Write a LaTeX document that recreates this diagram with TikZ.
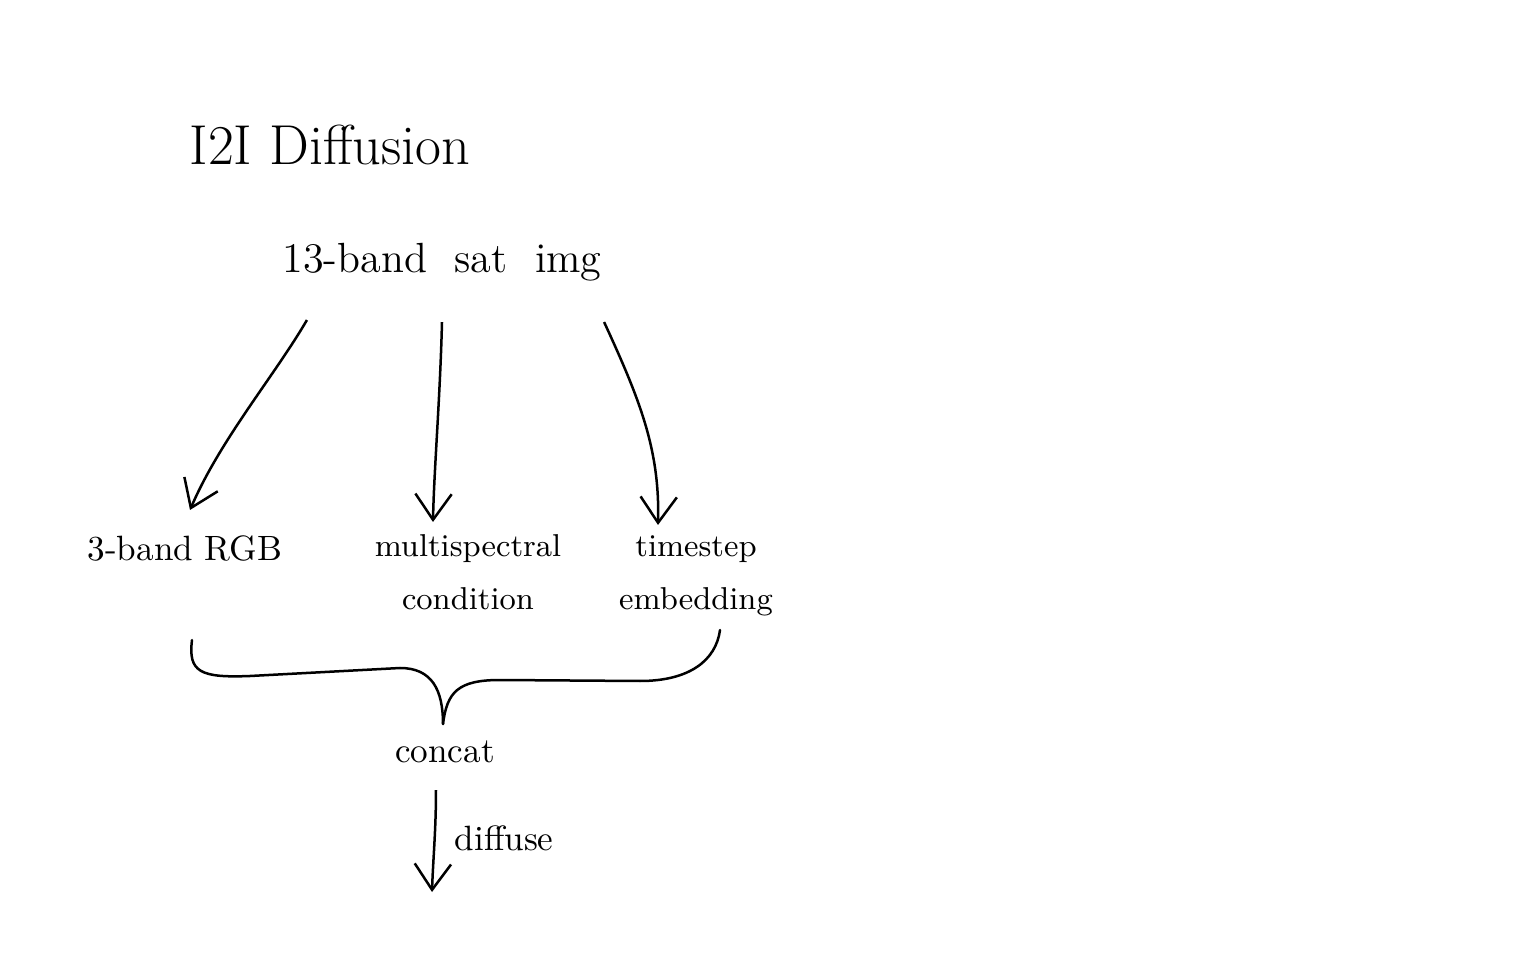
\documentclass[tikz,border=0pt]{standalone}
\usepackage{tikz}
\usetikzlibrary{arrows.meta}

\begin{document}
\begin{tikzpicture}[x=0.01cm,y=-0.01cm]

\useasboundingbox (0,0) rectangle (1536,958);

%\draw[] (0,0) rectangle (1536,958);

\tikzset{arr/.style={line width=0.25mm,-{Straight Barb[angle=70:9pt,line width=0.25mm]}}}
\tikzset{hand/.style={line width=0.25mm,line cap=round}}

\node[inner sep=0pt] (title) at (330,145){\fontsize{16}{19}\selectfont I2I Diffusion};

\node[inner sep=0pt] (src) at (442,262){\large 13-band\ \ sat\ \ img};

\node[inner sep=0pt] (rgb) at (185,548){\normalsize 3-band\ RGB};
\node[inner sep=0pt,align=center] (ms) at (468,572){\small multispectral\\[3pt]\small condition};
\node[inner sep=0pt,align=center] (ts) at (696,576){\small timestep\\[3pt]\small embedding};

\node[inner sep=0pt] (concat) at (445,752){\normalsize concat};
\coordinate (out) at (432,892);

\draw[arr] ([xshift=-1.35cm,yshift=-0.58cm]src.center) .. controls (275,375) and (220,440) .. ([xshift=0.05cm,yshift=0.38cm]rgb.center);
\draw[arr] ([yshift=-0.6cm]src.center) .. controls (440,400) and (434,470) .. ([xshift=-0.35cm,yshift=0.5cm]ms.center);
\draw[arr] ([xshift=1.62cm,yshift=-0.6cm]src.center) .. controls (640,400) and (660,450) .. ([xshift=-0.38cm,yshift=0.51cm]ts.center);

%brace
\coordinate (tip) at (443,724);
\draw[hand] ([xshift=0.07cm,yshift=-0.92cm]rgb.center) .. controls (188,672) and (200,678) .. (250,676) -- (400,668) .. controls (432,668) and (443,690) .. (tip);
\draw[hand] (tip) .. controls (447,692) and (458,680) .. (500,680) -- (640,681) .. controls (690,681) and (716,660) .. ([xshift=0.24cm,yshift=-0.54cm]ts.center);

\draw[arr] ([xshift=-0.09cm,yshift=-0.38cm]concat.center) .. controls (436,830) and (433,860) .. (out);
\node[inner sep=0pt,anchor=west] (difflabel) at (454,838){\normalsize diffuse};

\end{tikzpicture}
\end{document}
